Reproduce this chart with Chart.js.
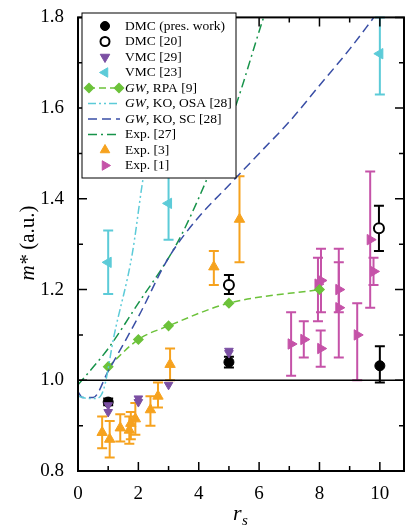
<!DOCTYPE html>
<html>
<head>
<meta charset="utf-8">
<script src="https://cdn.jsdelivr.net/npm/chart.js@4"></script>
<style>
  html, body { margin: 0; padding: 0; background: #fff; }
  #wrap { width: 411px; height: 528px; }
</style>
</head>
<body>
<div id="wrap"><canvas id="myChart" width="411" height="528"></canvas></div>
<script>
// data: [rs, m*, low, high]
const dmcPres = [[1, 0.952, 0.945, 0.96], [5, 1.04, 1.028, 1.052], [10, 1.032, 0.995, 1.075]];
const dmc20 = [[5, 1.21, 1.19, 1.232], [9.97, 1.335, 1.285, 1.385]];
const vmc29 = [[1, 0.93], [1, 0.945], [2, 0.952], [2, 0.96], [3, 0.99], [5, 1.06], [5, 1.065]];
const vmc23 = [[1, 1.26, 1.19, 1.33], [3, 1.39, 1.31, 1.47], [10, 1.72, 1.63, 1.8]];
const gwRpa = [[1, 1.03], [2, 1.09], [3, 1.12], [5, 1.17], [8, 1.2]];
const gwOsa = [[0, 0.965], [0.3, 0.96], [0.6, 0.96], [0.85, 0.98], [1.2, 1.1], [1.8, 1.28], [2.1, 1.42], [2.5, 1.6], [2.9, 1.8]];
const gwSc = [[0, 0.975], [0.15, 0.962], [0.5, 0.962], [1, 1.02], [2, 1.14], [3, 1.27], [4, 1.36], [5, 1.43], [6, 1.5], [7, 1.57], [8, 1.65], [9, 1.73], [9.8, 1.8]];
const exp27 = [[0, 0.99], [1, 1.07], [2, 1.17], [3, 1.27], [3.5, 1.33], [4.5, 1.48], [5.2, 1.6], [6.1, 1.79], [6.2, 1.81]];
const exp3 = [[0.8, 0.885, 0.85, 0.92], [1.05, 0.87, 0.83, 0.91], [1.4, 0.895, 0.865, 0.925], [1.7, 0.89, 0.86, 0.92],
  [1.75, 0.905, 0.87, 0.93], [1.9, 0.915, 0.88, 0.95], [2.4, 0.935, 0.9, 0.965], [2.65, 0.965, 0.94, 0.995],
  [3.05, 1.035, 1.0, 1.07], [4.5, 1.25, 1.21, 1.285], [5.35, 1.355, 1.26, 1.45]];
const exp1 = [[7.06, 1.08, 1.01, 1.15], [7.48, 1.09, 1.05, 1.13], [8.04, 1.07, 1.03, 1.11], [7.95, 1.212, 1.13, 1.27],
  [8.05, 1.22, 1.15, 1.29], [8.64, 1.2, 1.05, 1.29], [8.64, 1.16, 1.15, 1.26], [9.25, 1.1, 1.0, 1.17],
  [9.68, 1.31, 1.16, 1.46], [9.79, 1.24, 1.21, 1.27]];
const unity = [[0, 1], [10.8, 1]];
const xTicks = [0, 2, 4, 6, 8, 10];
const yTicks = [0.8, 1.0, 1.2, 1.4, 1.6, 1.8];

const pts = (arr) => arr.map((p) => ({ x: p[0], y: p[1], lo: p[2], hi: p[3] }));
const serif = "'Liberation Serif', 'DejaVu Serif', serif";

const mark = (label, data, style, color, rot, fill, size) => ({
  label, data: pts(data), type: "scatter", pointStyle: style, rotation: rot || 0,
  pointRadius: size || 5, borderColor: color, backgroundColor: fill === false ? "#fff" : color,
  borderWidth: fill === false ? 2 : 1, errColor: color, showLine: false,
});
const line = (label, data, color, dash, width, extra) => Object.assign({
  label, data: pts(data), type: "line", borderColor: color, backgroundColor: color,
  borderDash: dash, borderWidth: width || 1.5, pointRadius: 0, cubicInterpolationMode: "monotone", fill: false,
}, extra || {});

const datasets = [
  line("unity", unity, "#000", [], 1.5, { cubicInterpolationMode: "default", tension: 0 }),
  line("GW, KO, OSA [28]", gwOsa, "#5ccbd8", [8, 3, 2, 3, 2, 3], 1.5, { lg: ["GW", ", KO, OSA [28]"] }),
  line("GW, KO, SC [28]", gwSc, "#3a4fa6", [9, 5], 1.5, { lg: ["GW", ", KO, SC [28]"] }),
  line("Exp. [27]", exp27, "#17934a", [9, 4, 2, 4], 1.5),
  line("GW, RPA [9]", gwRpa, "#6cc23a", [7, 4], 1.5, { pointStyle: "rectRot", pointRadius: 4.5, lg: ["GW", ", RPA [9]"] }),
  mark("Exp. [3]", exp3, "triangle", "#f6a21e", 0, true, 6),
  mark("Exp. [1]", exp1, "triangle", "#c552a8", 90, true, 6),
  mark("VMC [29]", vmc29, "triangle", "#7b4fa3", 180, true, 5),
  mark("VMC [23]", vmc23, "triangle", "#5ccbd8", -90, true, 6),
  mark("DMC [20]", dmc20, "circle", "#000", 0, false, 5),
  mark("DMC (pres. work)", dmcPres, "circle", "#000", 0, true, 5),
];
const legendOrder = ["DMC (pres. work)", "DMC [20]", "VMC [29]", "VMC [23]", "GW, RPA [9]", "GW, KO, OSA [28]", "GW, KO, SC [28]", "Exp. [27]", "Exp. [3]", "Exp. [1]"];

const errorBars = {
  id: "errorBars",
  beforeDatasetsDraw(chart) {
    const { ctx, scales: { x, y } } = chart;
    ctx.save();
    chart.data.datasets.forEach((ds) => {
      ds.data.forEach((p) => {
        if (p.lo === undefined) return;
        const px = x.getPixelForValue(p.x);
        const yl = y.getPixelForValue(p.lo), yh = y.getPixelForValue(p.hi);
        ctx.strokeStyle = ds.errColor; ctx.lineWidth = 2;
        ctx.beginPath();
        ctx.moveTo(px, yl); ctx.lineTo(px, yh);
        ctx.moveTo(px - 5, yl); ctx.lineTo(px + 5, yl);
        ctx.moveTo(px - 5, yh); ctx.lineTo(px + 5, yh);
        ctx.stroke();
      });
    });
    ctx.restore();
  },
};

const frame = {
  id: "frame",
  afterDraw(chart) {
    const { ctx, chartArea: a, scales: { x, y } } = chart;
    ctx.save();
    ctx.strokeStyle = "#000"; ctx.lineWidth = 2;
    ctx.strokeRect(a.left, a.top, a.right - a.left, a.bottom - a.top);
    ctx.lineWidth = 1.5;
    ctx.beginPath();
    for (let v = 0; v <= 10; v++) {
      const px = x.getPixelForValue(v), len = v % 2 ? 5 : 9;
      ctx.moveTo(px, a.bottom); ctx.lineTo(px, a.bottom - len);
      ctx.moveTo(px, a.top); ctx.lineTo(px, a.top + len);
    }
    for (let v = 0.8; v <= 1.81; v += 0.1) {
      const py = y.getPixelForValue(v), len = Math.round(v * 10) % 2 ? 5 : 9;
      ctx.moveTo(a.left, py); ctx.lineTo(a.left + len, py);
      ctx.moveTo(a.right, py); ctx.lineTo(a.right - len, py);
    }
    ctx.stroke();

    // axis titles
    ctx.fillStyle = "#000";
    ctx.font = "italic 22px " + serif;
    ctx.textAlign = "left"; ctx.textBaseline = "alphabetic";
    ctx.fillText("r", 233, 520);
    ctx.font = "italic 15px " + serif;
    ctx.fillText("s", 242, 525);
    ctx.save();
    ctx.translate(34, 243); ctx.rotate(-Math.PI / 2);
    const t1 = "m*", t2 = " (a.u.)";
    ctx.font = "21px " + serif;
    const w2 = ctx.measureText(t2).width;
    ctx.font = "italic 21px " + serif;
    const w1 = ctx.measureText(t1).width;
    ctx.textAlign = "left";
    ctx.fillText(t1, -(w1 + w2) / 2, 0);
    ctx.font = "21px " + serif;
    ctx.fillText(t2, -(w1 + w2) / 2 + w1, 0);
    ctx.restore();

    // legend
    const lx = 82, ly = 13, lw = 154, lh = 165, row = 15.5;
    ctx.fillStyle = "#fff";
    ctx.fillRect(lx, ly, lw, lh);
    ctx.strokeStyle = "#000"; ctx.lineWidth = 1;
    ctx.strokeRect(lx, ly, lw, lh);
    legendOrder.forEach((name, i) => {
      const ds = chart.data.datasets.find((d) => d.label === name);
      const cy = ly + 13 + i * row, cx = 105;
      ctx.save();
      if (ds.type === "line") {
        ctx.strokeStyle = ds.borderColor; ctx.lineWidth = 1.5;
        ctx.setLineDash(ds.borderDash);
        ctx.beginPath(); ctx.moveTo(88, cy); ctx.lineTo(120, cy); ctx.stroke();
        ctx.setLineDash([]);
        if (ds.pointStyle === "rectRot") {
          ctx.fillStyle = ds.backgroundColor; ctx.strokeStyle = ds.borderColor;
          [89, 119].forEach((px) => Chart.helpers.drawPoint(ctx, { pointStyle: "rectRot", radius: 4.5, rotation: 0, borderWidth: 1 }, px, cy));
        }
      } else {
        ctx.fillStyle = ds.backgroundColor; ctx.strokeStyle = ds.borderColor;
        ctx.lineWidth = ds.borderWidth;
        Chart.helpers.drawPoint(ctx, { pointStyle: ds.pointStyle, radius: ds.pointStyle === "circle" ? 4.5 : 5.5, rotation: ds.rotation, borderWidth: ds.borderWidth }, cx, cy);
      }
      ctx.restore();
      ctx.fillStyle = "#000"; ctx.textBaseline = "middle"; ctx.textAlign = "left";
      let tx = 125;
      if (ds.lg) {
        ctx.font = "italic 13.5px " + serif;
        ctx.fillText(ds.lg[0], tx, cy);
        tx += ctx.measureText(ds.lg[0]).width;
        ctx.font = "13.5px " + serif;
        ctx.fillText(ds.lg[1], tx, cy);
      } else {
        ctx.font = "13.5px " + serif;
        ctx.fillText(name, tx, cy);
      }
    });
    ctx.restore();
  },
};

new Chart(document.getElementById("myChart"), {
  data: { datasets },
  options: {
    responsive: false, animation: false,
    layout: { padding: { left: 0, right: 4, top: 14, bottom: 0 } },
    plugins: { legend: { display: false }, tooltip: { enabled: false } },
    scales: {
      x: {
        type: "linear", min: 0, max: 10.8,
        afterBuildTicks: (s) => { s.ticks = xTicks.map((v) => ({ value: v })); },
        afterFit: (s) => { s.height = 57; },
        grid: { display: false }, border: { display: false },
        ticks: { color: "#000", font: { family: serif, size: 19 }, padding: 4 },
      },
      y: {
        type: "linear", min: 0.8, max: 1.8,
        afterBuildTicks: (s) => { s.ticks = yTicks.map((v) => ({ value: v })); },
        afterFit: (s) => { s.width = 78; },
        grid: { display: false }, border: { display: false },
        ticks: { color: "#000", font: { family: serif, size: 19 }, padding: 6, callback: (v) => v.toFixed(1) },
      },
    },
  },
  plugins: [errorBars, frame],
});
</script>
</body>
</html>
